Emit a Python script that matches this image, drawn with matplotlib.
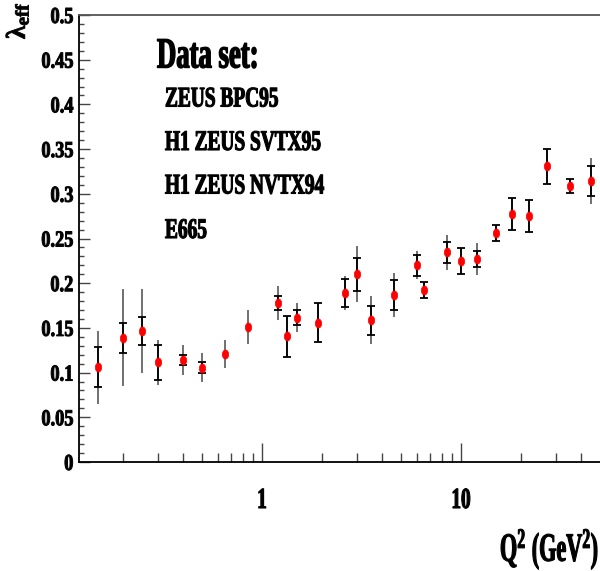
import numpy as np
import matplotlib
matplotlib.use("Agg")
import matplotlib.pyplot as plt
from matplotlib.path import Path
from matplotlib.transforms import Affine2D
from matplotlib.patheffects import AbstractPathEffect
from matplotlib.ticker import FixedLocator, LogLocator, NullFormatter, MultipleLocator

# ---------------- data ----------------
q2 = [0.15, 0.20, 0.25, 0.30, 0.40, 0.50, 0.65, 0.85, 1.2, 1.33, 1.5, 1.9, 2.6,
      3.0, 3.5, 4.6, 6.0, 6.5, 8.5, 10.0, 12.0, 15.0, 18.0, 22.0, 27.0, 35.0, 45.0]
lam_eff = [0.106, 0.139, 0.1465, 0.1115, 0.114, 0.1055, 0.121, 0.151, 0.178, 0.1405,
           0.1615, 0.156, 0.189, 0.210, 0.1585, 0.187, 0.220, 0.1925, 0.2345, 0.2245,
           0.227, 0.256, 0.277, 0.275, 0.331, 0.3085, 0.3145]
# inner (statistical) error, NaN where not drawn
stat_err = [0.0225, 0.017, 0.016, 0.0198, 0.006, 0.006, np.nan, np.nan, 0.008, 0.0225,
            0.0088, 0.022, 0.0155, 0.0185, 0.016, 0.0165, 0.0118, 0.009, 0.012, 0.0145,
            0.009, 0.009, 0.018, 0.018, 0.0195, 0.008, 0.0168]
# outer (total) error
tot_err = [0.041, 0.0545, 0.047, 0.0255, 0.017, 0.016, 0.016, 0.0195, 0.019, 0.0225,
           0.016, 0.022, 0.019, 0.0315, 0.027, 0.0243, 0.0155, 0.009, 0.0195, 0.0145,
           0.0175, 0.009, 0.018, 0.018, 0.0195, 0.008, 0.0255]

legend_title = "Data set:"
legend_lines = ["ZEUS BPC95", "H1 ZEUS SVTX95", "H1 ZEUS NVTX94", "E665"]
y_ticks = [0, 0.05, 0.1, 0.15, 0.2, 0.25, 0.3, 0.35, 0.4, 0.45, 0.5]
y_ticklabels = ["0", "0.05", "0.1", "0.15", "0.2", "0.25", "0.3", "0.35", "0.4", "0.45", "0.5"]
x_ticks = [1, 10]
x_ticklabels = ["1", "10"]

# ---------------- style helpers ----------------
class Squeeze(AbstractPathEffect):
    """Horizontally condense text glyphs (along baseline) about an anchor,
    with an optional outline to make the strokes heavier."""
    def __init__(self, sx, anchor="left", stroke=0.0):
        super().__init__()
        self.sx = sx
        self.anchor = anchor
        self.stroke = stroke

    def draw_path(self, renderer, gc, tpath, affine, rgbFace=None):
        v = tpath.vertices
        if len(v) == 0:
            return
        x0, x1 = v[:, 0].min(), v[:, 0].max()
        a = {"left": x0, "right": x1, "center": 0.5 * (x0 + x1)}[self.anchor]
        t = Affine2D().translate(-a, 0).scale(self.sx, 1).translate(a, 0) + affine
        gc0 = renderer.new_gc()
        gc0.copy_properties(gc)
        if self.stroke > 0 and rgbFace is not None:
            gc0.set_linewidth(self.stroke)
            gc0.set_foreground(rgbFace)
            gc0.set_joinstyle("round")
        renderer.draw_path(gc0, tpath, t, rgbFace)
        gc0.restore()


plt.rcParams["font.family"] = ["Liberation Serif", "DejaVu Serif"]
plt.rcParams["font.weight"] = "bold"
plt.rcParams["mathtext.fontset"] = "custom"
plt.rcParams["mathtext.rm"] = "Liberation Serif:bold"
plt.rcParams["mathtext.it"] = "Liberation Serif:bold"
plt.rcParams["mathtext.bf"] = "Liberation Serif:bold"

W, H = 600, 571
fig = plt.figure(figsize=(W / 100, H / 100), dpi=100)
ax = fig.add_axes([79 / W, 1 - 462 / H, 1 - 79 / W, (462 - 15) / H])

def fx(px):
    return px / W

def fy(py):
    return 1 - py / H

# ---------------- marks ----------------
q2a = np.array(q2)
lama = np.array(lam_eff)
stat = np.array(stat_err)
tot = np.array(tot_err)

ax.errorbar(q2a, lama, yerr=tot, fmt="none", ecolor="#707070", elinewidth=1.4,
            capsize=0, zorder=2)
m = ~np.isnan(stat)
ax.errorbar(q2a[m], lama[m], yerr=stat[m], fmt="none", ecolor="black",
            elinewidth=1.3, capsize=3.0, capthick=1.3, zorder=3)

theta = np.linspace(0, 2 * np.pi, 64)
ell = Path(np.column_stack([0.7 * np.cos(theta), np.sin(theta)]), closed=True)
ax.plot(q2a, lama, ls="none", marker=ell, ms=6.5, color="red", mec="red",
        mew=0.5, zorder=5)

# ---------------- axes ----------------
ax.set_xscale("log")
ax.set_xlim(0.12, 49.8)
ax.set_ylim(0, 0.5)

ax.spines["right"].set_visible(False)
for s in ["left", "bottom"]:
    ax.spines[s].set_linewidth(1.3)
    ax.spines[s].set_color("black")
ax.spines["top"].set_linewidth(1.3)
ax.spines["top"].set_color("#555555")

ax.xaxis.set_major_locator(FixedLocator(x_ticks))
ax.xaxis.set_minor_locator(LogLocator(base=10, subs=np.arange(2, 10), numticks=20))
ax.xaxis.set_minor_formatter(NullFormatter())
ax.set_xticklabels(x_ticklabels)
ax.yaxis.set_major_locator(FixedLocator(y_ticks))
ax.yaxis.set_minor_locator(MultipleLocator(0.01))
ax.set_yticklabels(y_ticklabels)

ax.tick_params(axis="x", which="major", direction="in", length=13.7, width=1.0,
               color="#444444", pad=18.0, labelsize=21, top=False)
ax.tick_params(axis="x", which="minor", direction="in", length=6.8, width=1.0,
               color="#444444", top=False)
ax.tick_params(axis="y", which="major", direction="in", length=7.9, width=1.0,
               color="#444444", pad=4.0, labelsize=16.5, right=False)
ax.tick_params(axis="y", which="minor", direction="in", length=3.6, width=1.0,
               color="#444444", right=False)

for lbl in ax.get_yticklabels():
    lbl.set_path_effects([Squeeze(0.8, "right", stroke=0.7)])
for lbl in ax.get_xticklabels():
    lbl.set_path_effects([Squeeze(0.66, "center", stroke=0.8)])

# ---------------- texts ----------------
fig.text(fx(157), fy(67.5), legend_title, fontsize=31, fontweight="bold",
         ha="left", va="baseline", path_effects=[Squeeze(0.62, "left", stroke=1.0)])
baselines = [106.5, 150, 193.5, 238]
for txt, b in zip(legend_lines, baselines):
    fig.text(fx(165), fy(b), txt, fontsize=20.5, fontweight="bold",
             ha="left", va="baseline", path_effects=[Squeeze(0.68, "left", stroke=0.8)])

fig.text(fx(599), fy(561), r"$\mathrm{Q^{2}\ (GeV^{2})}$", fontsize=29,
         ha="right", va="baseline", path_effects=[Squeeze(0.55, "right", stroke=0.8)])

fig.text(fx(25), fy(39), r"$\mathrm{\lambda_{eff}}$", fontsize=19.5, rotation=90,
         rotation_mode="anchor", ha="left", va="baseline",
         path_effects=[Squeeze(1.0, "left", stroke=0.6)])

fig.savefig("out.png", dpi=100)
